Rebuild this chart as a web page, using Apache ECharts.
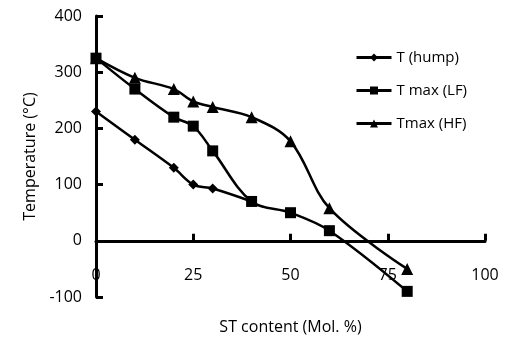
<!DOCTYPE html>
<html><head><meta charset="utf-8">
<script src="https://cdn.jsdelivr.net/npm/echarts@6/dist/echarts.min.js"></script>
<style>html,body{margin:0;padding:0;background:#fff}#c{width:507px;height:342px}</style>
</head><body><div id="c"></div>
<script>
const xTicks = [0, 25, 50, 75, 100];
const yTicks = [-100, 0, 100, 200, 300, 400];
const humpX = [0, 10, 20, 25, 30, 40];
const humpY = [230, 180, 130, 100, 93, 70];
const lfX = [0, 10, 20, 25, 30, 40, 50, 60, 80];
const lfY = [325, 270, 220, 204, 160, 70, 50, 18, -90];
const hfX = [0, 10, 20, 25, 30, 40, 50, 60, 80];
const hfY = [325, 290, 270, 248, 238, 220, 177, 58, -50];
const names = ['T (hump)', 'T max (LF)', 'Tmax (HF)'];

const font = '"Comic Sans MS", "Open Sans", "DejaVu Sans", sans-serif';
const pair = (xs, ys) => xs.map((x, i) => [x, ys[i]]);
const chart = echarts.init(document.getElementById('c'));
const mk = (name, data, symbol, size) => ({
  name, type: 'line', data, smooth: 0.35, symbol, symbolSize: size,
  lineStyle: { color: '#000', width: 2.5 }, itemStyle: { color: '#000' }, z: 3
});
chart.setOption({
  animation: false,
  textStyle: { fontFamily: font },
  grid: { left: 96, right: 22, top: 16, bottom: 45, containLabel: false, outerBoundsMode: 'none' },
  legend: {
    orient: 'vertical', left: 350, top: 45, itemWidth: 35, itemHeight: 10, itemGap: 18,
    lineStyle: { width: 3 },
    textStyle: { fontFamily: font, fontSize: 15, color: '#000' },
    data: names
  },
  xAxis: {
    type: 'value', min: xTicks[0], max: xTicks[xTicks.length - 1], interval: 25,
    axisLine: { onZero: true, lineStyle: { color: '#000', width: 3 } },
    axisTick: { inside: true, length: 7, lineStyle: { color: '#000', width: 3 } },
    axisLabel: { margin: -30, fontSize: 16, color: '#000', fontFamily: font },
    splitLine: { show: false },
    name: 'ST content (Mol. %)', nameLocation: 'middle', nameGap: 22,
    nameTextStyle: { fontSize: 16, color: '#000', fontFamily: font }
  },
  yAxis: {
    type: 'value', min: yTicks[0], max: yTicks[yTicks.length - 1], interval: 100,
    axisLine: { show: true, lineStyle: { color: '#000', width: 3 } },
    axisTick: { show: true, inside: true, length: 7, lineStyle: { color: '#000', width: 3 } },
    axisLabel: { margin: 14, fontSize: 16, color: '#000', fontFamily: font },
    splitLine: { show: false },
    name: 'Temperature (°C)', nameLocation: 'middle', nameGap: 58,
    nameTextStyle: { fontSize: 16, color: '#000', fontFamily: font }
  },
  series: [
    mk(names[0], pair(humpX, humpY), 'diamond', 10),
    mk(names[1], pair(lfX, lfY), 'rect', 11),
    mk(names[2], pair(hfX, hfY), 'triangle', 12)
  ]
});
</script></body></html>
